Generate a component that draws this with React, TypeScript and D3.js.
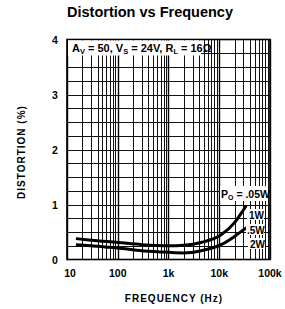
import React from "react";
import * as d3 from "d3";

const xTickValues = [10, 100, 1000, 10000, 100000];
const xTickLabels = ["10", "100", "1k", "10k", "100k"];
const yTickValues = [0, 1, 2, 3, 4];

const upperFreq = [15, 30, 100, 300, 1000, 2000, 4400, 10900, 20000, 28000, 34000];
const upperDist = [0.38, 0.35, 0.31, 0.27, 0.25, 0.26, 0.31, 0.45, 0.67, 0.86, 0.98];
const lowerFreq = [15, 30, 100, 300, 1000, 2000, 4400, 10900, 20000, 28000, 35000];
const lowerDist = [0.27, 0.25, 0.21, 0.16, 0.13, 0.12, 0.16, 0.27, 0.42, 0.52, 0.58];

const W = 285, H = 309;
const L = 67, R = 270, T = 39.5, B = 259.5;

export default function App() {
  const x = d3.scaleLog().domain([10, 100000]).range([L, R]);
  const y = d3.scaleLinear().domain([0, 4]).range([B, T]);

  const minor: number[] = [];
  for (let dec = 10; dec < 100000; dec *= 10) {
    for (let k = 2; k <= 9; k++) minor.push(dec * k);
  }
  const hGrid = d3.range(0.25, 4, 0.25);
  const snap = (v: number) => Math.round(v) + 0.5;

  const line = d3
    .line<[number, number]>()
    .x((d) => x(d[0]))
    .y((d) => y(d[1]))
    .curve(d3.curveMonotoneX);

  const upper = upperFreq.map((f, i) => [f, upperDist[i]] as [number, number]);
  const lower = lowerFreq.map((f, i) => [f, lowerDist[i]] as [number, number]);

  const font = "'Liberation Sans', Arial, sans-serif";

  return (
    <svg width={W} height={H} style={{ position: "absolute", left: 0, top: 0, background: "#fff" }}>
      <rect x={0} y={0} width={W} height={H} fill="#fff" />
      <text x={150} y={17} textAnchor="middle" fontFamily={font} fontWeight="bold" fontSize={14.5}>
        Distortion vs Frequency
      </text>
      {/* vertical grid */}
      {minor.map((f) => (
        <line key={"v" + f} x1={snap(x(f))} x2={snap(x(f))} y1={T} y2={B} stroke="#111" strokeWidth={1} />
      ))}
      {xTickValues.map((f) => (
        <line key={"vm" + f} x1={snap(x(f))} x2={snap(x(f))} y1={T} y2={B} stroke="#000" strokeWidth={1.4} />
      ))}
      {hGrid.map((v) => (
        <line key={"h" + v} x1={L} x2={R} y1={snap(y(v))} y2={snap(y(v))} stroke="#111" strokeWidth={1} />
      ))}
      <rect x={L} y={T} width={R - L} height={B - T} fill="none" stroke="#000" strokeWidth={1.6} />

      {/* annotation box */}
      <rect x={L + 1} y={T + 1} width={133} height={15} fill="#fff" />
      <text x={L + 5} y={T + 12.5} fontFamily={font} fontWeight="bold" fontSize={11}>
        A<tspan fontSize={7.5} dy={2}>V</tspan>
        <tspan dy={-2}> = 50, V</tspan>
        <tspan fontSize={7.5} dy={2}>S</tspan>
        <tspan dy={-2}> = 24V, R</tspan>
        <tspan fontSize={7.5} dy={2}>L</tspan>
        <tspan dy={-2}> = 16Ω</tspan>
      </text>

      {/* curves */}
      <path d={line(upper) || ""} fill="none" stroke="#000" strokeWidth={3} />
      <path d={line(lower) || ""} fill="none" stroke="#000" strokeWidth={3} />

      {/* curve labels */}
      <rect x={220} y={186} width={48} height={15} fill="#fff" />
      <text x={221} y={198} fontFamily={font} fontWeight="bold" fontSize={10.5}>
        P<tspan fontSize={7} dy={2}>O</tspan>
        <tspan dy={-2}> = .05W</tspan>
      </text>
      <rect x={247} y={209} width={17} height={11} fill="#fff" />
      <text x={249} y={219} fontFamily={font} fontWeight="bold" fontSize={10}>1W</text>
      <rect x={246} y={224} width={18} height={11} fill="#fff" />
      <text x={247} y={234} fontFamily={font} fontWeight="bold" fontSize={10}>.5W</text>
      <rect x={248} y={238} width={17} height={11} fill="#fff" />
      <text x={250} y={248} fontFamily={font} fontWeight="bold" fontSize={10}>2W</text>

      {/* x tick labels */}
      {xTickValues.map((f, i) => (
        <text key={"xt" + f} x={x(f) + (i === 0 ? 3 : 0)} y={277} textAnchor="middle" fontFamily={font} fontWeight="bold" fontSize={10.5}>
          {xTickLabels[i]}
        </text>
      ))}
      {/* y tick labels */}
      {yTickValues.map((v) => (
        <text key={"yt" + v} x={55} y={y(v) + 4} textAnchor="middle" fontFamily={font} fontWeight="bold" fontSize={10.5}>
          {v}
        </text>
      ))}
      <text x={174} y={302} textAnchor="middle" fontFamily={font} fontWeight="bold" fontSize={10} letterSpacing={1}>
        FREQUENCY (Hz)
      </text>
      <text
        transform={`translate(25,152) rotate(-90)`}
        textAnchor="middle"
        fontFamily={font}
        fontWeight="bold"
        fontSize={10}
        letterSpacing={1}
      >
        DISTORTION (%)
      </text>
    </svg>
  );
}
